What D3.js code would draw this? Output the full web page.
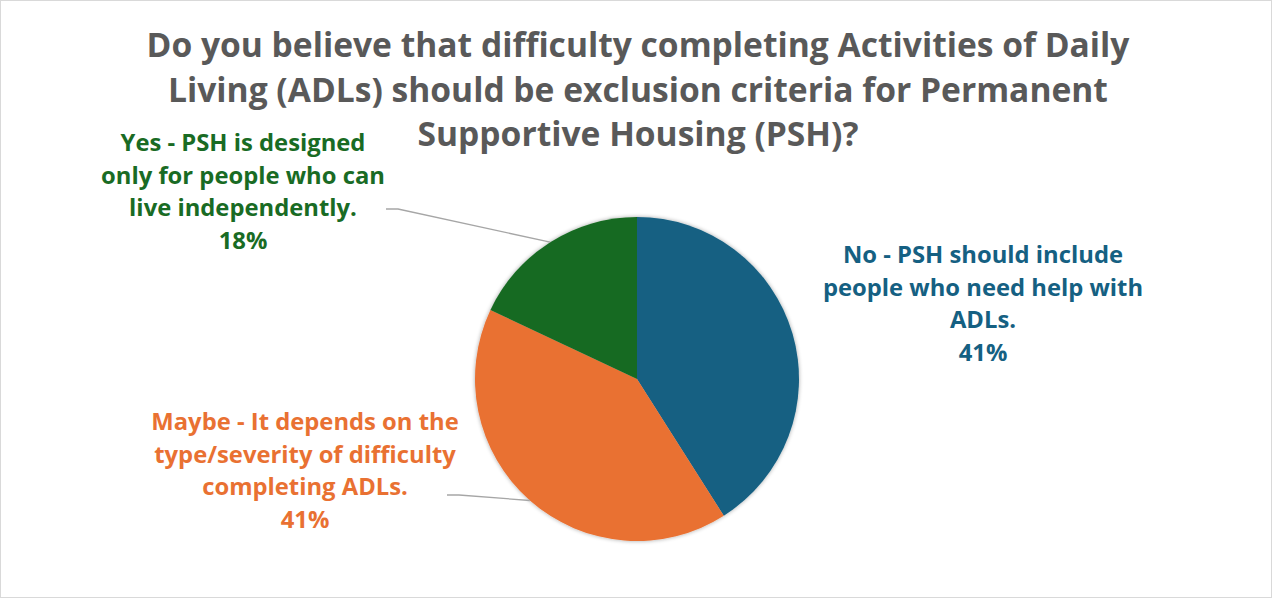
<!DOCTYPE html>
<html><head><meta charset="utf-8">
<script src="https://cdn.jsdelivr.net/npm/d3@7"></script>
<style>
html,body{margin:0;padding:0;background:#fff;}
svg{display:block;}
</style></head>
<body>
<svg id="chart" width="1272" height="598"></svg>
<script>
// ---- data ----
const categories = [
  "No - PSH should include people who need help with ADLs.",
  "Maybe - It depends on the type/severity of difficulty completing ADLs.",
  "Yes - PSH is designed only for people who can live independently."
];
const values = [41, 41, 18];
const pctLabels = ["41%", "41%", "18%"];
const labelLines = [
  ["No - PSH should include", "people who need help with", "ADLs."],
  ["Maybe - It depends on the", "type/severity of difficulty", "completing ADLs."],
  ["Yes - PSH is designed", "only for people who can", "live independently."]
];
const titleLines = [
  "Do you believe that difficulty completing Activities of Daily",
  "Living (ADLs) should be exclusion criteria for Permanent",
  "Supportive Housing (PSH)?"
];

// ---- styles / layout ----
const colors = ["#156082", "#E97132", "#196B24"];
const W = 1272, H = 598;
const cx = 637, cy = 379, R = 162;
const fontFam = "'Open Sans', 'Liberation Sans', sans-serif";
const labelLayout = [
  {x: 983, y: 263, leader: null},
  {x: 305, y: 430, leader: {x: 447, y: 495}},
  {x: 243, y: 151, leader: {x: 386, y: 209}}
];
const labelLH = 32.5;

const svg = d3.select("#chart");
svg.append("rect").attr("x",0.5).attr("y",0.5).attr("width",W-1).attr("height",H-1)
  .attr("fill","#fff").attr("stroke","#D9D9D9").attr("stroke-width",1);

const defs = svg.append("defs");
const f = defs.append("filter").attr("id","sh").attr("x","-10%").attr("y","-10%").attr("width","120%").attr("height","120%");
f.append("feGaussianBlur").attr("in","SourceAlpha").attr("stdDeviation",2).attr("result","b");
f.append("feComponentTransfer").attr("in","b").attr("result","o2")
  .append("feFuncA").attr("type","linear").attr("slope",0.35);
const fm = f.append("feMerge");
fm.append("feMergeNode").attr("in","o2");
fm.append("feMergeNode").attr("in","SourceGraphic");

// title
const title = svg.append("text").attr("text-anchor","middle")
  .attr("font-family",fontFam).attr("font-weight","bold").attr("font-size",33.6)
  .attr("fill","#595959");
titleLines.forEach((t,i)=>{
  title.append("tspan").attr("x",W/2+2).attr("y",57+i*44.5).text(t);
});

// pie
const pie = d3.pie().sort(null).value(d=>d).startAngle(0).endAngle(2*Math.PI);
const arcs = pie(values);
const arc = d3.arc().innerRadius(0).outerRadius(R);
const g = svg.append("g").attr("transform",`translate(${cx},${cy})`);
g.append("g").attr("filter","url(#sh)").selectAll("path").data(arcs).join("path")
  .attr("d",arc).attr("fill",(d,i)=>colors[i]);

// leader lines
arcs.forEach((a,i)=>{
  const L = labelLayout[i].leader;
  if(!L) return;
  const mid = (a.startAngle+a.endAngle)/2;
  const ex = cx + R*Math.sin(mid), ey = cy - R*Math.cos(mid);
  svg.append("polyline")
    .attr("points",`${L.x},${L.y} ${L.x+12},${L.y} ${ex},${ey}`)
    .attr("fill","none").attr("stroke","#A6A6A6").attr("stroke-width",1.3);
});

// labels
labelLayout.forEach((p,i)=>{
  const t = svg.append("text").attr("text-anchor","middle")
    .attr("font-family",fontFam).attr("font-weight","bold").attr("font-size",23.8)
    .attr("fill",colors[i]);
  labelLines[i].concat([pctLabels[i]]).forEach((s,j)=>{
    t.append("tspan").attr("x",p.x).attr("y",p.y+j*labelLH).text(s);
  });
});
</script>
</body></html>
